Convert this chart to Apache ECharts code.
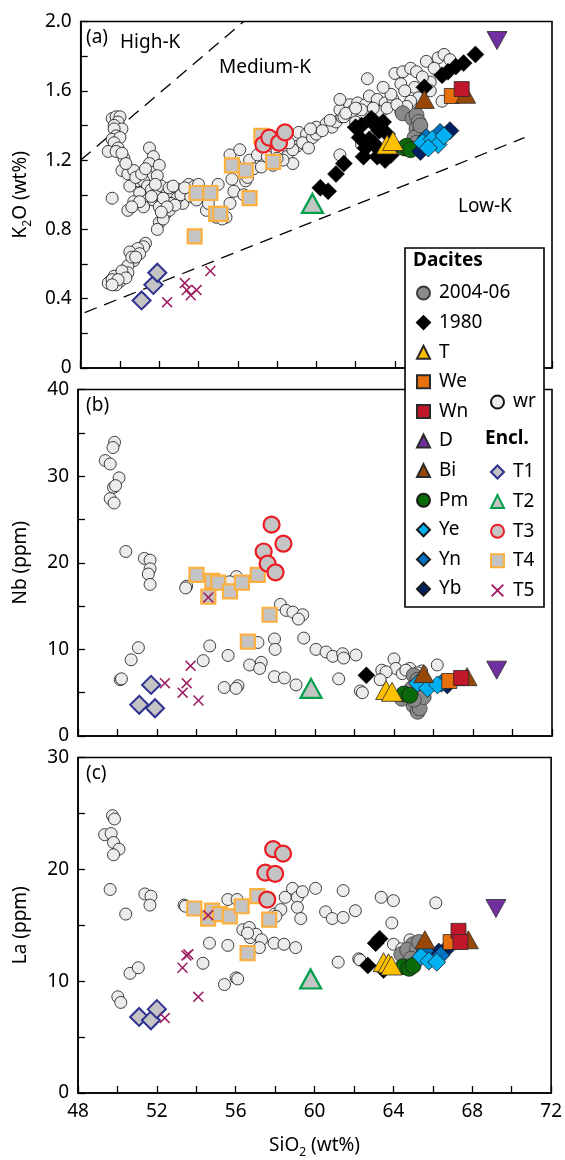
<!DOCTYPE html>
<html><head><meta charset="utf-8">
<script src="https://cdn.jsdelivr.net/npm/echarts@6/dist/echarts.min.js"></script>
<style>html,body{margin:0;padding:0;background:#fff}#c{width:565px;height:1160px}</style>
</head><body><div id="c"></div>
<script>
// ---------- tick labels ----------
const xTickValues = [48, 52, 56, 60, 64, 68, 72];
const kTickValues = [0, 0.4, 0.8, 1.2, 1.6, 2.0];
const kTickLabels = ['0', '0.4', '0.8', '1.2', '1.6', '2.0'];
const nbTickValues = [0, 10, 20, 30, 40];
const laTickValues = [0, 10, 20, 30];

// ---------- legend names ----------
const daciteNames = ['2004-06', '1980', 'T', 'We', 'Wn', 'D', 'Bi', 'Pm', 'Ye', 'Yn', 'Yb'];
const enclaveNames = ['T1', 'T2', 'T3', 'T4', 'T5'];

// ---------- boundary lines (panel a) ----------
const highKLine = [[48, 1.2], [56.3, 2.0]];
const lowKLine = [[48.2, 0.32], [70.6, 1.33]];

// ---------- panel a: K2O ----------
const wrK = [[49.6,1.44],[49.8,1.45],[50.0,1.45],[49.9,1.42],[49.7,1.40],[50.1,1.38],[49.7,1.38],[49.8,1.34],[49.6,1.32],[50.0,1.33],[49.7,1.30],[49.4,1.25],[49.9,1.27],[49.8,1.25],[50.2,1.21],[50.1,1.24],[49.6,0.98],
[50.1,1.14],[50.4,1.12],[50.7,1.14],[50.9,1.08],[50.5,1.05],[51.5,1.27],[51.7,1.22],[51.5,1.18],[51.6,1.13],[51.5,1.10],[52.0,1.17],[51.9,1.11],[51.2,1.08],[51.4,1.05],[51.6,1.03],[51.0,1.01],[51.4,0.97],[50.4,0.91],[50.7,0.96],[51.2,0.93],[51.7,0.97],[52.0,0.93],[51.8,1.00],[52.1,1.05],[52.4,1.01],[52.7,1.00],[53.0,1.03],[53.2,0.95],[52.9,0.98],[53.5,1.06],[53.8,1.05],[54.0,1.06],[52.3,0.89],[52.0,0.84],[51.9,0.80],[52.5,0.91],[52.2,0.86],[52.6,0.95],[53.4,1.02],[55.0,1.06],[54.4,0.91],[54.9,0.87],[55.4,0.87],[55.2,0.86],[55.6,0.95],[55.8,1.02],[55.6,1.23],[56.1,1.26],[55.7,1.09],[56.4,1.08],[55.9,1.17],[56.3,1.00],
[50.3,1.18],[50.8,1.10],[51.1,1.12],[51.3,1.15],[51.8,1.06],[52.2,0.98],[52.5,1.04],[52.8,0.94],[53.1,1.00],[53.6,0.99],[53.9,0.97],[54.2,1.02],[54.5,0.95],[51.6,0.99],[51.0,0.96],[50.6,0.93],[52.4,0.93],[52.1,0.90],[52.7,1.05],[53.3,1.04],
[51.3,0.72],[51.2,0.70],[50.9,0.69],[50.5,0.67],[50.7,0.62],[50.4,0.59],[50.4,0.55],[49.7,0.53],[49.5,0.50],[50.0,0.50],[50.2,0.53],[49.8,0.48],[49.4,0.49],[49.6,0.51],[50.1,0.56],[50.6,0.64],[51.0,0.66],[50.8,0.64],[50.3,0.52],[49.9,0.51],[49.6,0.48],
[56.6,1.20],[56.5,1.10],[57.0,1.23],[57.3,1.28],[56.8,1.15],[57.5,1.22],[58.0,1.25],[58.5,1.22],[58.8,1.18],[59.0,1.28],[59.1,1.36],[59.5,1.35],[59.3,1.30],[59.8,1.33],[60.0,1.35],[60.0,1.39],[60.5,1.41],[60.8,1.39],[61.0,1.42],[61.3,1.45],[61.2,1.49],[61.7,1.52],[62.1,1.53],[62.5,1.52],[61.2,1.55],[62.6,1.67],[62.7,1.57],[63.1,1.55],[63.5,1.53],[63.9,1.55],[61.8,1.48],[62.3,1.49],[63.3,1.48],[61.4,1.45],[64.0,1.70],[64.4,1.71],[64.8,1.73],[65.1,1.71],[65.6,1.77],[66.2,1.79],[66.5,1.81],[64.3,1.64],[65.0,1.62],[65.8,1.65],[65.2,1.56],[64.8,1.54],[66.4,1.54],[65.8,1.60],[64.3,1.48],[64.6,1.51],[62.3,1.29],[61.2,1.23],[58.8,1.26],[58.3,1.20],[57.8,1.17],[59.6,1.27],
[60.3,1.37],[60.7,1.43],[61.5,1.47],[62.0,1.50],[62.9,1.50],[63.6,1.50],[64.1,1.52],[63.8,1.58],[64.5,1.60],[65.4,1.68],[66.0,1.73],[66.8,1.78],[63.4,1.62],[62.0,1.42],[59.7,1.38],[58.6,1.30],[58.0,1.21],[57.2,1.16]];
const d0406K = [[64.4,1.47],[64.9,1.44],[65.1,1.46],[65.2,1.42],[65.1,1.38],[65.2,1.35],[65.0,1.33],[65.3,1.40],[65.1,1.30]];
const d1980K = [[60.2,1.04],[60.6,1.02],[61.0,1.12],[61.4,1.18],[62.0,1.39],[62.3,1.40],[62.5,1.27],[62.7,1.32],[62.8,1.44],[63.1,1.22],[63.2,1.37],[63.2,1.26],[63.6,1.35],[63.8,1.23],[64.0,1.28],[62.2,1.33],[62.9,1.30],[63.4,1.42],[63.0,1.40],[62.4,1.22],[63.5,1.20],[65.5,1.62],[66.4,1.69],[66.7,1.71],[67.1,1.74],[67.5,1.76],[68.1,1.81]];
const tK = [[63.6,1.29],[63.9,1.31]];
const weK = [[66.9,1.57]];
const wnK = [[67.4,1.61]];
const dK = [[69.2,1.89]];
const biK = [[65.5,1.55],[67.6,1.58]];
const pmK = [[64.5,1.27],[64.6,1.28],[64.8,1.26]];
const yeK = [[65.4,1.30],[65.9,1.32],[66.2,1.29],[66.5,1.34],[65.7,1.27]];
const ynK = [[65.6,1.33],[66.3,1.36]];
const ybK = [[66.8,1.37],[65.3,1.25]];
const t1K = [[51.1,0.39],[51.7,0.48],[51.9,0.55]];
const t2K = [[59.8,0.95]];
const t3K = [[57.3,1.29],[57.6,1.33],[58.1,1.30],[58.4,1.36]];
const t4K = [[53.8,0.76],[53.9,1.01],[54.6,1.01],[54.9,0.89],[55.1,0.89],[55.7,1.17],[56.4,1.14],[56.6,0.98],[57.2,1.34],[57.8,1.19]];
const t5K = [[52.4,0.38],[53.3,0.49],[53.4,0.45],[53.6,0.42],[53.9,0.45],[54.6,0.56]];

// ---------- panel b: Nb ----------
const wrNb = [[49.85,33.9],[49.77,33.3],[49.38,31.8],[49.63,31.4],[50.08,29.8],[49.8,28.7],[49.9,28.9],[49.63,27.4],[49.83,26.9],[50.42,21.3],[51.36,20.5],[51.65,20.3],[51.65,19.3],[51.56,18.7],[51.65,17.5],[53.5,17.3],[53.45,17.1],[56.02,18.4],[55.68,17.8],[58.25,15.2],[58.54,14.5],[58.88,14.3],[59.38,14.0],[59.16,13.5],[51.06,10.2],[50.69,8.8],[50.14,6.5],[50.2,6.6],[54.67,10.4],[54.34,8.7],[55.6,9.3],[55.4,5.6],[56.1,5.8],[56.0,5.5],[56.69,8.2],[57.11,10.8],[57.28,8.5],[57.2,7.8],[57.95,11.2],[57.98,10.0],[57.95,6.85],[58.45,6.7],[59.04,5.9],[59.43,11.3],[60.05,10.0],[60.56,9.7],[60.9,9.2],[61.4,9.5],[61.45,9.0],[62.07,9.35],[61.2,6.6],[62.3,5.2],[62.4,5.0],[63.38,7.6],[64.0,8.9],[64.09,7.8],[64.42,7.2],[66.19,8.2],[64.8,7.8],[65.4,7.5],[63.6,7.4],[63.3,6.5],[64.6,7.6],[65.2,7.3]];
const d0406Nb = [[65.0,7.0],[65.2,6.5],[64.9,5.5],[65.3,5.0],[65.0,3.5],[65.2,2.8],[65.3,3.2],[64.4,4.3],[65.5,4.5],[65.0,4.2]];
const d1980Nb = [[62.6,7.0]];
const tNb = [[63.6,5.3],[63.9,5.1]];
const weNb = [[66.8,6.35]];
const wnNb = [[67.4,6.7]];
const dNb = [[69.2,7.6]];
const biNb = [[65.5,7.2],[67.7,6.85]];
const pmNb = [[64.5,4.85],[64.8,4.7]];
const yeNb = [[65.2,6.1],[65.7,5.5],[66.2,5.9]];
const ynNb = [[65.3,6.3],[66.4,6.1]];
const ybNb = [[65.4,6.5],[66.7,5.9]];
const t1Nb = [[51.1,3.6],[51.9,3.2],[51.7,5.9]];
const t2Nb = [[59.8,5.5]];
const t3Nb = [[57.8,24.4],[58.4,22.2],[57.4,21.3],[57.6,19.9],[58.0,18.9]];
const t4Nb = [[54.0,18.6],[54.6,16.1],[54.8,17.9],[55.1,17.7],[55.7,16.7],[56.3,17.7],[57.1,18.6],[57.7,14.0],[56.6,10.9]];
const t5Nb = [[54.6,16.0],[52.4,6.1],[53.7,8.1],[53.5,6.1],[53.3,5.0],[54.1,4.1]];

// ---------- panel c: La ----------
const wrLa = [[49.75,24.8],[49.85,24.5],[49.35,23.1],[49.68,23.2],[49.8,22.4],[50.08,21.8],[49.8,21.3],[49.63,18.2],[50.42,16.0],[51.39,17.8],[51.7,17.6],[51.65,16.8],[50.64,10.7],[51.06,11.2],[50.02,8.6],[50.17,8.1],[53.38,16.8],[53.45,16.7],[54.67,13.4],[54.34,11.6],[55.43,9.7],[56.02,10.3],[56.1,10.2],[55.6,13.2],[55.6,17.3],[56.07,17.3],[56.36,14.6],[56.69,14.8],[56.74,13.9],[57.03,14.2],[57.31,13.7],[57.2,13.0],[57.95,13.4],[58.45,13.3],[59.04,13.0],[57.98,16.0],[58.29,16.4],[58.51,17.5],[58.88,18.3],[59.13,17.5],[59.13,16.6],[59.3,15.6],[59.38,18.0],[60.05,18.3],[61.45,18.1],[60.56,16.2],[60.9,15.6],[61.45,15.7],[62.07,16.3],[63.38,17.5],[64.0,17.2],[66.15,17.0],[63.92,15.2],[61.2,11.7],[62.24,12.0],[62.3,11.9],[64.0,13.3],[64.42,12.9],[64.84,13.7],[58.04,15.8],[56.6,14.3]];
const d0406La = [[64.4,12.4],[65.0,13.3],[64.7,12.8],[65.2,12.9],[64.9,12.0],[65.3,13.5]];
const d1980La = [[63.1,13.4],[63.3,13.8],[62.7,11.4],[63.5,11.0]];
const tLa = [[63.5,11.7],[63.75,11.6],[63.9,11.4]];
const weLa = [[66.9,13.5]];
const wnLa = [[67.3,14.5],[67.4,13.5]];
const dLa = [[69.2,16.5]];
const biLa = [[65.6,13.7],[67.8,13.7]];
const pmLa = [[64.5,11.3],[64.8,11.15],[65.0,11.4]];
const yeLa = [[65.4,12.2],[65.8,11.8],[66.2,11.7]];
const ynLa = [[65.6,12.7],[66.4,12.3]];
const ybLa = [[66.7,12.9],[66.3,12.6]];
const t1La = [[51.1,6.8],[51.7,6.5],[52.0,7.5]];
const t2La = [[59.8,10.2]];
const t3La = [[57.9,21.8],[58.4,21.4],[57.5,19.7],[58.0,19.6],[57.6,17.3]];
const t4La = [[53.9,16.5],[54.6,15.6],[54.8,16.3],[55.2,16.0],[55.7,15.8],[56.3,16.7],[57.1,17.6],[57.7,15.5],[56.6,12.5]];
const t5La = [[54.6,15.9],[53.6,12.4],[53.5,12.3],[53.3,11.2],[54.1,8.6],[52.4,6.7]];

// ---------- styles ----------
const FONT = 'Noto Sans';
const CROSS = 'path://M1,0L5,4L9,0L10,1L6,5L10,9L9,10L5,6L1,10L0,9L4,5L0,1Z';
const styles = {
  'wr':      {symbol: 'circle', size: 12, color: '#ececec', border: '#111', bw: 0.8},
  '2004-06': {symbol: 'circle', size: 15, color: '#8a8a8a', border: '#3a3a3a', bw: 0.8},
  '1980':    {symbol: 'diamond', size: 17, color: '#000', border: '#000', bw: 0.5},
  'T':       {symbol: 'triangle', size: [21, 19], color: '#ffc000', border: '#2a2a2a', bw: 0.8},
  'We':      {symbol: 'rect', size: 15, color: '#e8700c', border: '#2a2a2a', bw: 0.8},
  'Wn':      {symbol: 'rect', size: 15, color: '#c0182a', border: '#2a2a2a', bw: 0.8},
  'D':       {symbol: 'triangle', size: [20, 18], color: '#7030a0', border: '#2a2a2a', bw: 0.8, rotate: 180},
  'Bi':      {symbol: 'triangle', size: [20, 18], color: '#974806', border: '#2a2a2a', bw: 0.8},
  'Pm':      {symbol: 'circle', size: 16, color: '#0a6a0a', border: '#1a1a1a', bw: 0.8},
  'Ye':      {symbol: 'diamond', size: 18, color: '#00b0f0', border: '#1a1a1a', bw: 0.8},
  'Yn':      {symbol: 'diamond', size: 18, color: '#0070c0', border: '#1a1a1a', bw: 0.8},
  'Yb':      {symbol: 'diamond', size: 18, color: '#002060', border: '#1a1a1a', bw: 0.8},
  'T1':      {symbol: 'diamond', size: 18, color: '#c4c4c4', border: '#2e3192', bw: 2},
  'T2':      {symbol: 'triangle', size: [21, 19], color: '#c4c4c4', border: '#00a04b', bw: 2.2},
  'T3':      {symbol: 'circle', size: 16, color: '#c4c4c4', border: '#ed1c24', bw: 2.2},
  'T4':      {symbol: 'rect', size: 14, color: '#c4c4c4', border: '#fbb040', bw: 2.2},
  'T5':      {symbol: CROSS, size: 11, color: '#9e1f63', border: '#9e1f63', bw: 0}
};

function sc(name, gi, data) {
  const s = styles[name];
  return {
    type: 'scatter', name: name, xAxisIndex: gi, yAxisIndex: gi, data: data,
    symbol: s.symbol, symbolSize: s.size, symbolRotate: s.rotate || 0,
    itemStyle: {color: s.color, borderColor: s.border, borderWidth: s.bw, opacity: 1},
    emphasis: {disabled: true}, silent: true, z: 3
  };
}

const panels = [
  {wr: wrK, '2004-06': d0406K, '1980': d1980K, T: tK, We: weK, Wn: wnK, D: dK, Bi: biK, Pm: pmK, Ye: yeK, Yn: ynK, Yb: ybK, T1: t1K, T2: t2K, T3: t3K, T4: t4K, T5: t5K},
  {wr: wrNb, '2004-06': d0406Nb, '1980': d1980Nb, T: tNb, We: weNb, Wn: wnNb, D: dNb, Bi: biNb, Pm: pmNb, Ye: yeNb, Yn: ynNb, Yb: ybNb, T1: t1Nb, T2: t2Nb, T3: t3Nb, T4: t4Nb, T5: t5Nb},
  {wr: wrLa, '2004-06': d0406La, '1980': d1980La, T: tLa, We: weLa, Wn: wnLa, D: dLa, Bi: biLa, Pm: pmLa, Ye: yeLa, Yn: ynLa, Yb: ybLa, T1: t1La, T2: t2La, T3: t3La, T4: t4La, T5: t5La}
];
const drawOrder = ['wr', '1980', '2004-06', 'Pm', 'T', 'Yb', 'Yn', 'Ye', 'We', 'Bi', 'Wn', 'D', 'T1', 'T2', 'T4', 'T3', 'T5'];

const series = [];
panels.forEach((p, gi) => drawOrder.forEach(n => series.push(sc(n, gi, p[n]))));
[highKLine, lowKLine].forEach(l => series.push({
  type: 'line', xAxisIndex: 0, yAxisIndex: 0, data: l, symbol: 'none', silent: true, z: 2,
  lineStyle: {color: '#000', width: 1.3, type: [13, 8]}
}));

const AX = {color: '#000', width: 1.6};
const grids = [
  {left: 76, top: 21.5, width: 476, height: 346.5},
  {left: 76, top: 389.5, width: 476, height: 346.5},
  {left: 76, top: 757.5, width: 476, height: 346.5}
].map(g => Object.assign(g, {show: true, borderColor: '#000', borderWidth: 1.6, backgroundColor: 'transparent'}));

function xAxis(gi, showLabels) {
  return {
    type: 'value', gridIndex: gi, min: 48, max: 72, interval: 2,
    name: showLabels ? 'SiO{s|2} (wt%)' : '', nameLocation: 'middle', nameGap: 40,
    nameTextStyle: {fontFamily: FONT, fontSize: 19, color: '#000', lineHeight: 26,
      rich: {s: {fontFamily: FONT, fontSize: 12, lineHeight: 12, verticalAlign: 'bottom', color: '#000'}}},
    axisLine: {show: true, onZero: false, lineStyle: AX},
    axisTick: {show: true, inside: true, length: 7, lineStyle: {color: '#000', width: 1.3}},
    splitLine: {show: false},
    axisLabel: {show: showLabels, margin: 9, fontFamily: FONT, fontSize: 19, color: '#000',
      formatter: v => xTickValues.some(t => Math.abs(t - v) < 1e-6) ? String(v) : ''}
  };
}
function yAxis(gi, min, max, interval, name, tickVals, tickLabels) {
  return {
    type: 'value', gridIndex: gi, min: min, max: max, interval: interval,
    name: name, nameLocation: 'middle', nameGap: 44,
    nameTextStyle: {fontFamily: FONT, fontSize: 19, color: '#000', lineHeight: 26,
      rich: {s: {fontFamily: FONT, fontSize: 12, lineHeight: 12, verticalAlign: 'bottom', color: '#000'}}},
    axisLine: {show: true, onZero: false, lineStyle: AX},
    axisTick: {show: true, inside: true, length: 7, lineStyle: {color: '#000', width: 1.3}},
    splitLine: {show: false},
    axisLabel: {margin: 9, fontFamily: FONT, fontSize: 19, color: '#000',
      formatter: v => {
        const i = tickVals.findIndex(t => Math.abs(t - v) < 1e-6);
        return i >= 0 ? (tickLabels ? tickLabels[i] : String(tickVals[i])) : '';
      }}
  };
}

const legendBase = {
  orient: 'vertical', padding: 0, itemWidth: 13, itemHeight: 13, itemGap: 10.6,
  selectedMode: false, z: 6, inactiveColor: '#000',
  textStyle: {fontFamily: FONT, fontSize: 19, color: '#000', lineHeight: 19, padding: [0, 0, 0, 4]}
};

const txt = (x, y, text, bold, z) => ({
  type: 'text', left: x, top: y, z: z || 5,
  style: {text: text, font: (bold ? 'bold ' : '') + '19px "Noto Sans"', fill: '#000'}
});

const option = {
  animation: false,
  grid: grids,
  xAxis: [xAxis(0, false), xAxis(1, false), xAxis(2, true)],
  yAxis: [
    yAxis(0, 0, 2, 0.2, 'K{s|2}O (wt%)', kTickValues, kTickLabels),
    yAxis(1, 0, 40, 5, 'Nb (ppm)', nbTickValues),
    yAxis(2, 0, 30, 5, 'La (ppm)', laTickValues)
  ],
  legend: [
    Object.assign({}, legendBase, {data: daciteNames, left: 416, top: 283.5}),
    Object.assign({}, legendBase, {data: ['wr'], left: 490, top: 392.5}),
    Object.assign({}, legendBase, {data: enclaveNames, left: 490, top: 462.5})
  ],
  graphic: [
    {type: 'rect', z: 4, shape: {x: 405, y: 248, width: 139, height: 359},
     style: {fill: '#fff', stroke: '#000', lineWidth: 1.6}},
    txt(413, 251, 'Dacites', true),
    txt(485, 429, 'Encl.', true),
    txt(86, 28, '(a)'),
    txt(120, 33, 'High-K'),
    txt(219, 58, 'Medium-K'),
    txt(458, 197, 'Low-K'),
    txt(86, 396, '(b)'),
    txt(86, 764, '(c)')
  ],
  series: series
};

const chart = echarts.init(document.getElementById('c'), null, {renderer: 'canvas'});
chart.setOption(option);
</script></body></html>
